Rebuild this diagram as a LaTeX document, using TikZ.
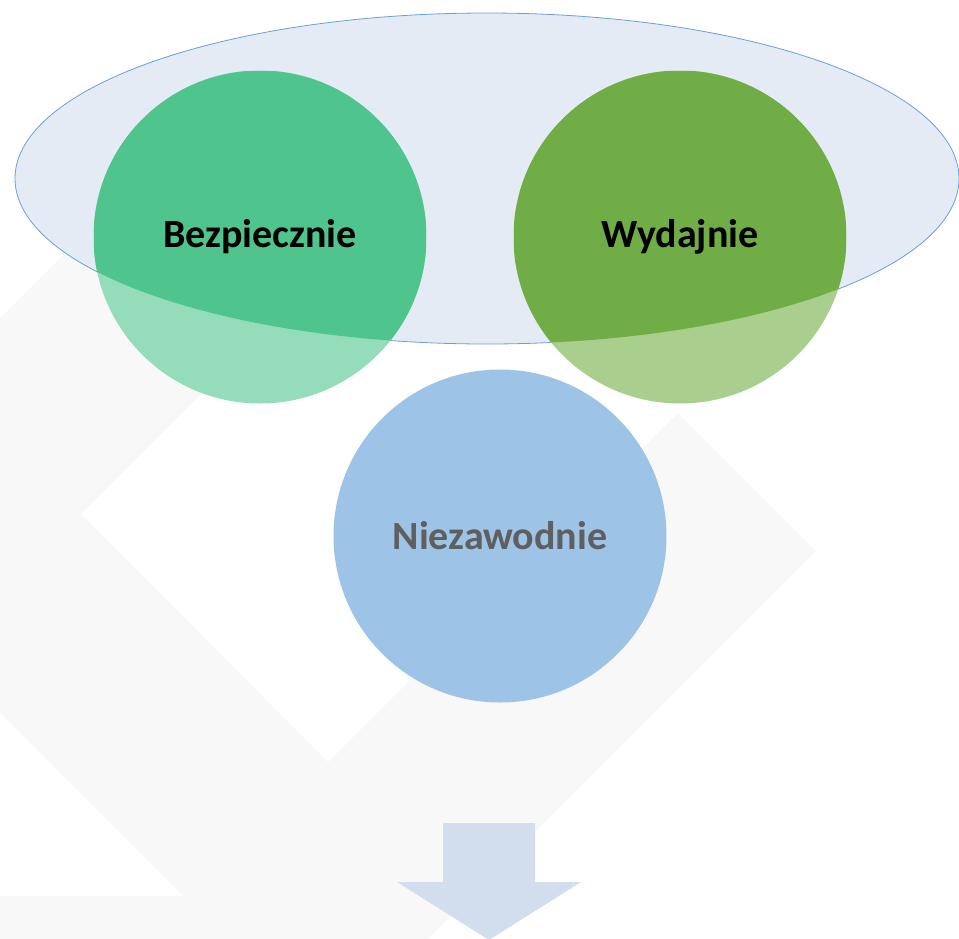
\documentclass[tikz,border=0pt]{standalone}
\usepackage{fontspec}
\setmainfont{Carlito}
\usetikzlibrary{shapes.geometric}

\definecolor{markgray}{HTML}{F8F8F8}
\definecolor{funnelfill}{HTML}{E4EBF5}
\definecolor{funnelline}{HTML}{6A9FD8}
\definecolor{bezdark}{HTML}{4FC48C}
\definecolor{bezlight}{HTML}{95DCBA}
\definecolor{wyddark}{HTML}{70AD47}
\definecolor{wydlight}{HTML}{A9CF8F}
\definecolor{niezblue}{HTML}{9DC3E6}
\definecolor{nieztext}{HTML}{5F5F5F}
\definecolor{arrowblue}{HTML}{D2DEEE}

\tikzset{
  ball/.style={circle,minimum size=333pt,inner sep=0pt,
    font=\bfseries\fontsize{40}{48}\selectfont},
  inside/.style={path picture={
    \clip (Funnel.center) ellipse [x radius=472, y radius=165.5];
    \fill[#1] (path picture bounding box.south west) rectangle
      (path picture bounding box.north east);}}
}

\begin{document}
\begin{tikzpicture}[x=1pt,y=-1pt]
\useasboundingbox (0,0) rectangle (959,938);
\clip (0,0) rectangle (959,938);

% faint mark in the background
\fill[markgray] (259,59) -- (-197,515) -- (327,1040) -- (816,551)
  -- (678,413) -- (328,762) -- (81,514) -- (397.5,197.5) -- cycle;
\fill[markgray] (-10,896) rectangle (429,950);

\node[ellipse,draw=funnelline,fill=funnelfill,line width=0.8pt,
  minimum width=944pt,minimum height=331pt,inner sep=0pt] (Funnel) at (487,178.5) {};

\begin{scope}[every node/.style={ball}]
\node[fill=bezlight,inside=bezdark] (Bezpiecznie) at (260,237) {Bezpiecznie};
\node[fill=wydlight,inside=wyddark] (Wydajnie) at (680,237) {Wydajnie};
\node[fill=niezblue,text=nieztext] (Niezawodnie) at (500,536) {Niezawodnie};
\end{scope}

% arrow out of the funnel
\fill[arrowblue] (443,823) -- (535,823) -- (535,882) -- (581,882)
  -- (489,940) -- (397,882) -- (443,882) -- cycle;
\end{tikzpicture}
\end{document}
